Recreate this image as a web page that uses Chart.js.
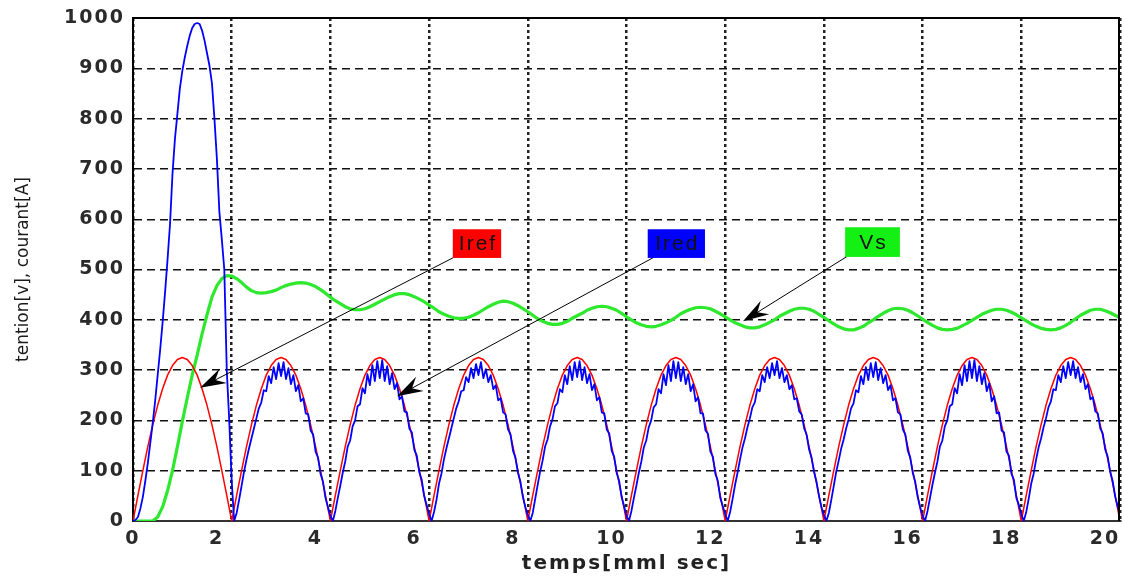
<!DOCTYPE html>
<html>
<head>
<meta charset="utf-8">
<title>tension / courant</title>
<script src="https://cdn.jsdelivr.net/npm/chart.js@4.4.1/dist/chart.umd.min.js"></script>
<style>
  html, body { margin: 0; padding: 0; background: #fff; }
  #wrap { width: 1122px; height: 576px; }
</style>
</head>
<body>
<div id="wrap"><canvas id="tensionChart" width="1122" height="576"></canvas></div>
<script>
// pas d'echantillonnage (ms)
const stepRef = 0.1;
const stepRed = 0.05;

// Vs : tension de sortie, un point tous les 0.1
const tensionVs = [
  0, 0, 0, 0, 0, 8, 28, 60, 100, 148,
  198, 245, 290, 330, 372, 410, 445, 468, 482, 488,
  487, 482, 474, 465, 458, 454, 453, 454, 456, 459,
  464, 468, 471, 473, 474, 473, 470, 466, 460, 453,
  445, 438, 432, 426, 422, 420, 420, 422, 426, 431,
  436, 441, 446, 450, 452, 452, 450, 446, 441, 436,
  429, 423, 416, 411, 407, 404, 403, 403, 405, 409,
  414, 420, 426, 431, 435, 437, 436, 433, 428, 422,
  416, 409, 402, 397, 393, 391, 391, 393, 397, 403,
  408, 413, 419, 423, 426, 427, 426, 423, 419, 413,
  406, 400, 394, 390, 387, 386, 387, 390, 394, 399,
  405, 412, 417, 421, 424, 425, 424, 422, 417, 412,
  406, 400, 394, 390, 386, 384, 384, 386, 390, 395,
  400, 407, 412, 417, 421, 423, 423, 421, 417, 411,
  405, 398, 392, 386, 382, 380, 380, 383, 387, 394,
  400, 407, 413, 418, 422, 423, 422, 419, 414, 408,
  401, 395, 389, 384, 381, 380, 381, 383, 388, 393,
  399, 405, 411, 415, 419, 421, 421, 419, 415, 410,
  404, 398, 392, 387, 383, 381, 380, 381, 384, 389,
  395, 402, 409, 414, 419, 421, 421, 418, 414, 409,
  404
];

// Iref : courant de reference, un point tous les 0.1
const courantIref = [
  0, 51, 100, 148, 191, 230, 263, 290, 309, 321, 325, 321, 309, 290, 263, 230, 191, 148, 100, 51,
  0, 51, 100, 148, 191, 230, 263, 290, 309, 321, 325, 321, 309, 290, 263, 230, 191, 148, 100, 51,
  0, 51, 100, 148, 191, 230, 263, 290, 309, 321, 325, 321, 309, 290, 263, 230, 191, 148, 100, 51,
  0, 51, 100, 148, 191, 230, 263, 290, 309, 321, 325, 321, 309, 290, 263, 230, 191, 148, 100, 51,
  0, 51, 100, 148, 191, 230, 263, 290, 309, 321, 325, 321, 309, 290, 263, 230, 191, 148, 100, 51,
  0, 51, 100, 148, 191, 230, 263, 290, 309, 321, 325, 321, 309, 290, 263, 230, 191, 148, 100, 51,
  0, 51, 100, 148, 191, 230, 263, 290, 309, 321, 325, 321, 309, 290, 263, 230, 191, 148, 100, 51,
  0, 51, 100, 148, 191, 230, 263, 290, 309, 321, 325, 321, 309, 290, 263, 230, 191, 148, 100, 51,
  0, 51, 100, 148, 191, 230, 263, 290, 309, 321, 325, 321, 309, 290, 263, 230, 191, 148, 100, 51,
  0, 51, 100, 148, 191, 230, 263, 290, 309, 321, 325, 321, 309, 290, 263, 230, 191, 148, 100, 51,
  0
];

// Ired : courant mesure, un point tous les 0.05 (une arche par tableau)
const iredStart = [0, 2, 8, 25, 48, 80, 115, 155, 195, 240, 290, 340, 395, 455, 520, 590, 690, 760, 810, 860,
  895, 922, 945, 965, 980, 988, 990, 988, 975, 955, 930, 905, 870, 800, 720, 615, 560, 500, 300, 200];
const ired1 = [80, 0, 16, 42, 70, 98, 122, 144, 164, 184, 204, 224, 236, 260, 258, 288, 274, 306, 282, 314,
  288, 316, 282, 304, 272, 290, 258, 270, 238, 244, 214, 212, 180, 172, 138, 126, 94, 78, 46, 28];
const ired2 = [10, 0, 20, 46, 70, 96, 118, 148, 160, 188, 200, 228, 232, 264, 254, 292, 270, 310, 278, 318,
  284, 320, 278, 308, 272, 294, 262, 274, 242, 248, 218, 216, 184, 176, 142, 130, 98, 82, 50, 32];
const ired3 = [14, 0, 18, 42, 74, 94, 122, 144, 164, 184, 204, 224, 238, 258, 260, 286, 276, 304, 284, 312,
  290, 316, 284, 302, 276, 290, 262, 270, 240, 244, 216, 212, 182, 172, 140, 126, 96, 78, 48, 28];
const ired4 = [12, 0, 16, 44, 72, 98, 120, 148, 162, 188, 202, 228, 234, 262, 256, 290, 272, 308, 280, 316,
  286, 318, 280, 306, 274, 292, 260, 272, 240, 246, 216, 214, 182, 174, 140, 128, 96, 80, 48, 30];
const ired5 = [10, 0, 20, 46, 70, 96, 118, 146, 160, 186, 200, 226, 232, 262, 254, 292, 270, 310, 278, 318,
  284, 316, 278, 306, 272, 292, 258, 272, 238, 246, 214, 214, 180, 174, 138, 128, 94, 80, 46, 30];
const ired6 = [14, 0, 18, 44, 72, 96, 122, 146, 164, 186, 204, 226, 236, 262, 258, 290, 276, 306, 284, 314,
  290, 318, 284, 304, 276, 290, 262, 270, 242, 244, 218, 212, 184, 172, 142, 126, 98, 78, 50, 28];
const ired7 = [12, 0, 16, 42, 70, 98, 120, 144, 162, 184, 202, 224, 234, 260, 256, 288, 272, 306, 280, 314,
  286, 316, 280, 304, 274, 290, 260, 270, 240, 244, 216, 212, 182, 172, 140, 126, 96, 78, 48, 28];
const ired8 = [10, 0, 20, 46, 72, 96, 118, 148, 160, 188, 200, 228, 232, 264, 254, 292, 270, 310, 278, 318,
  284, 320, 278, 308, 272, 294, 258, 274, 238, 248, 214, 216, 180, 176, 138, 130, 94, 82, 46, 32];
const ired9 = [14, 0, 18, 44, 74, 94, 122, 146, 164, 186, 204, 226, 238, 262, 260, 290, 276, 308, 284, 316,
  290, 318, 284, 306, 276, 292, 262, 272, 242, 246, 218, 214, 184, 174, 142, 128, 98, 80, 50, 30];
const iredEnd = [12];

// etiquettes et fleches (coordonnees en unites du graphe)
const noteText  = ['Iref', 'Ired', 'Vs'];
const noteFill  = ['#ff0000', '#0000ff', '#14f014'];
const noteBoxX  = [[6.48, 7.46], [10.43, 11.59], [14.43, 15.54]];
const noteBoxY  = [[580, 523], [580, 523], [584, 525]];
const arrowFrom = [[6.5, 524], [10.55, 524], [14.47, 526]];
const arrowTo   = [[1.36, 265], [5.35, 248], [12.36, 397]];

const courantIred = [].concat(iredStart, ired1, ired2, ired3, ired4, ired5, ired6, ired7, ired8, ired9, iredEnd);

function toPoints(vals, step) {
    return vals.map((v, i) => ({ x: Math.round(i * step * 100) / 100, y: v }));
}

// echelle lineaire avec espacement des lettres (figure etiree)
const textSpacing = { x: ['2px', '2px'], y: ['2px', '0px'] };
class SpacedScale extends Chart.LinearScale {
    drawLabels(area) {
        this.ctx.save();
        this.ctx.letterSpacing = textSpacing[this.axis][0];
        super.drawLabels(area);
        this.ctx.restore();
    }
    drawTitle() {
        this.ctx.save();
        this.ctx.letterSpacing = textSpacing[this.axis][1];
        super.drawTitle();
        this.ctx.restore();
    }
}
SpacedScale.id = 'spaced';
SpacedScale.defaults = Chart.LinearScale.defaults;
Chart.register(SpacedScale);

const notesPlugin = {
    id: 'notes',
    afterDatasetsDraw(chart) {
        const { ctx, scales: { x, y } } = chart;
        ctx.save();
        noteText.forEach((txt, i) => {
            const tx = x.getPixelForValue(arrowFrom[i][0]), ty = y.getPixelForValue(arrowFrom[i][1]);
            const hx = x.getPixelForValue(arrowTo[i][0]), hy = y.getPixelForValue(arrowTo[i][1]);
            const ang = Math.atan2(ty - hy, tx - hx);
            const c = Math.cos(ang), s = Math.sin(ang);
            const pt = (l, w) => [hx + l * c - w * s, hy + l * s + w * c];

            ctx.strokeStyle = '#000';
            ctx.lineWidth = 1;
            ctx.beginPath();
            ctx.moveTo(tx, ty);
            ctx.lineTo(...pt(16, 0));
            ctx.stroke();

            ctx.fillStyle = '#000';
            ctx.beginPath();
            ctx.moveTo(hx, hy);
            ctx.lineTo(...pt(26, 8));
            ctx.lineTo(...pt(17, 0));
            ctx.lineTo(...pt(26, -8));
            ctx.closePath();
            ctx.fill();

            const bx0 = x.getPixelForValue(noteBoxX[i][0]), bx1 = x.getPixelForValue(noteBoxX[i][1]);
            const by0 = y.getPixelForValue(noteBoxY[i][0]), by1 = y.getPixelForValue(noteBoxY[i][1]);
            ctx.fillStyle = noteFill[i];
            ctx.fillRect(bx0, by0, bx1 - bx0, by1 - by0);
            ctx.fillStyle = '#111';
            ctx.font = '21px "Liberation Sans", Arial, sans-serif';
            ctx.letterSpacing = '2px';
            ctx.textAlign = 'center';
            ctx.textBaseline = 'middle';
            ctx.fillText(txt, (bx0 + bx1) / 2 + 1, (by0 + by1) / 2 + 1);
            ctx.letterSpacing = '0px';
        });
        ctx.restore();
    },
    afterDraw(chart) {
        const { ctx, chartArea: a } = chart;
        ctx.save();
        ctx.strokeStyle = '#000';
        ctx.lineWidth = 2;
        ctx.beginPath();
        ctx.moveTo(a.left, a.top);
        ctx.lineTo(a.right - 1, a.top);
        ctx.lineTo(a.right - 1, a.bottom);
        ctx.stroke();
        ctx.restore();
    }
};

const tickFont = { family: '"DejaVu Sans", sans-serif', size: 19, weight: 'bold' };

const ctx = document.getElementById('tensionChart').getContext('2d');
new Chart(ctx, {
    type: 'line',
    data: {
        datasets: [
            { label: 'Ired', data: toPoints(courantIred, stepRed), borderColor: '#0000ff', borderWidth: 1.8 },
            { label: 'Iref', data: toPoints(courantIref, stepRef), borderColor: '#ff0000', borderWidth: 1.5 },
            { label: 'Vs', data: toPoints(tensionVs, stepRef), borderColor: '#2ee82e', borderWidth: 3.2 }
        ]
    },
    options: {
        responsive: false,
        animation: false,
        events: [],
        layout: { padding: { top: 18, right: 2, left: 0, bottom: 0 } },
        elements: {
            point: { radius: 0 },
            line: { tension: 0, borderJoinStyle: 'round', fill: false }
        },
        plugins: { legend: { display: false }, tooltip: { enabled: false } },
        scales: {
            x: {
                type: 'spaced',
                min: 0,
                max: 20,
                afterFit: (s) => { s.height = 55; s.paddingLeft = 0; s.paddingRight = 0; },
                ticks: {
                    stepSize: 2,
                    maxRotation: 0,
                    autoSkip: false,
                    labelOffset: -15,
                    padding: 7,
                    color: '#2a2a2a',
                    font: tickFont,
                    // le 0 reste sous l'axe vertical
                    callback: (v) => (v === 0 ? '\u2003 0' : String(v))
                },
                grid: { color: '#222', lineWidth: 2.5, drawTicks: false },
                border: { display: true, color: '#333', width: 2, dash: [3, 3] },
                title: {
                    display: true,
                    text: 'temps[mml sec]',
                    color: '#222',
                    padding: { top: 1, bottom: 0 },
                    font: { family: '"DejaVu Sans", sans-serif', size: 20, weight: 'bold' }
                }
            },
            y: {
                type: 'spaced',
                min: 0,
                max: 1000,
                afterFit: (s) => { s.width = 133; s.paddingTop = 0; s.paddingBottom = 0; },
                ticks: {
                    stepSize: 100,
                    padding: 8,
                    color: '#2a2a2a',
                    font: tickFont,
                    callback: (v) => String(v)
                },
                grid: { color: '#111', lineWidth: 1.4, drawTicks: false },
                border: { display: true, color: '#000', width: 2, dash: [8, 5] },
                title: {
                    display: true,
                    text: 'tention[v], courant[A]',
                    color: '#1a1a1a',
                    padding: { top: 13, bottom: 0 },
                    font: { family: '"DejaVu Sans", sans-serif', size: 17 }
                }
            }
        }
    },
    plugins: [notesPlugin]
});
</script>
</body>
</html>
